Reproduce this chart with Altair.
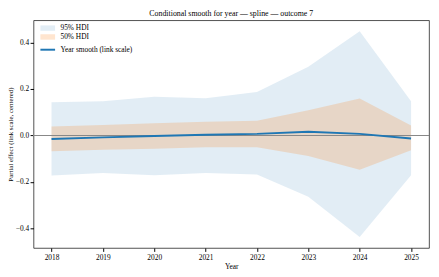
import altair as alt
import pandas as pd

years = [2018, 2019, 2020, 2021, 2022, 2023, 2024, 2025]
smooth = [-0.015, -0.008, -0.002, 0.003, 0.007, 0.016, 0.007, -0.013]
lo95 = [-0.172, -0.161, -0.171, -0.161, -0.168, -0.264, -0.437, -0.171]
hi95 = [0.143, 0.147, 0.167, 0.160, 0.187, 0.296, 0.449, 0.147]
lo50 = [-0.068, -0.061, -0.057, -0.051, -0.051, -0.088, -0.147, -0.064]
hi50 = [0.039, 0.045, 0.053, 0.059, 0.063, 0.109, 0.159, 0.043]
band_labels = ["95% HDI", "50% HDI"]
line_label = "Year smooth (link scale)"
y_ticks = [-0.4, -0.2, 0.0, 0.2, 0.4]

FONT = "Liberation Serif"
BLUE = "#1f77b4"
ORANGE = "#ff7f0e"

df = pd.DataFrame({"year": years, "smooth": smooth, "lo95": lo95, "hi95": hi95,
                   "lo50": lo50, "hi50": hi50})
df95 = df.assign(key=band_labels[0])
df50 = df.assign(key=band_labels[1])
dfl = df.assign(series=line_label)

x = alt.X("year:Q", title="Year",
          scale=alt.Scale(domain=[2017.65, 2025.35], nice=False, zero=False),
          axis=alt.Axis(values=years, format="d", grid=False, domain=False,
                        tickColor="black", tickSize=3.5, labelPadding=2,
                        labelFontSize=7.5, labelFont=FONT, labelColor="black",
                        titleFont=FONT, titleFontSize=7.5, titleFontWeight="normal",
                        titleColor="black", titlePadding=2))
yscale = alt.Scale(domain=[-0.484, 0.496], nice=False, zero=False)
yaxis = alt.Axis(values=y_ticks, format=".1f", grid=False, domain=False,
                 tickColor="black", tickSize=3.5, labelPadding=1.5,
                 labelFontSize=7.5, labelFont=FONT, labelColor="black",
                 titleFont=FONT, titleFontSize=7, titleFontWeight="normal",
                 titleColor="black", titlePadding=2)

RECT = "M-1.36,-0.5H1.36V0.5H-1.36Z"
band_legend = alt.Legend(title=None, orient="none", legendX=9, legendY=2.5, padding=0,
                         labelFont=FONT, labelFontSize=7.5, labelColor="black",
                         symbolType=RECT, symbolSize=121,
                         symbolStrokeWidth=0, rowPadding=0, labelOffset=7.5)
fill = alt.Fill("key:N", scale=alt.Scale(domain=band_labels, range=[BLUE, ORANGE]),
                legend=band_legend)
opac = alt.Opacity("key:N", scale=alt.Scale(domain=band_labels, range=[0.13, 0.2]),
                   legend=band_legend)

band95 = alt.Chart(df95).mark_area().encode(
    x=x, y=alt.Y("lo95:Q", scale=yscale, axis=yaxis, title="Partial effect (link scale, centered)"),
    y2="hi95:Q", fill=fill, opacity=opac)
band50 = alt.Chart(df50).mark_area().encode(
    x=x, y=alt.Y("lo50:Q", scale=yscale), y2="hi50:Q", fill=fill, opacity=opac)
zero = alt.Chart(df).mark_rule(color="#888888", strokeWidth=0.8).encode(y=alt.datum(0))
line = alt.Chart(dfl).mark_line(strokeWidth=2).encode(
    x=x, y=alt.Y("smooth:Q", scale=yscale),
    stroke=alt.Stroke("series:N", scale=alt.Scale(domain=[line_label], range=[BLUE]),
                      legend=alt.Legend(title=None, orient="none", legendX=8, legendY=23.5,
                                        padding=0, labelFont=FONT, labelFontSize=7.5,
                                        labelColor="black", symbolType="M-1.36,0H1.36",
                                        symbolSize=121, symbolStrokeWidth=2,
                                        labelOffset=6.5)))

chart = alt.layer(band95, band50, zero, line).properties(
    width=403, height=232,
    title=alt.Title("Conditional smooth for year \u2014 spline \u2014 outcome 7",
                    font=FONT, fontSize=8, fontWeight="normal", color="black",
                    anchor="middle", offset=2),
    autosize=alt.AutoSizeParams(type="none"),
    padding={"left": 26, "top": 10, "right": 2, "bottom": 22},
).configure_view(stroke="#222222", strokeWidth=0.8)

chart.save("out.html", embed_options={"renderer": "svg", "actions": False})
